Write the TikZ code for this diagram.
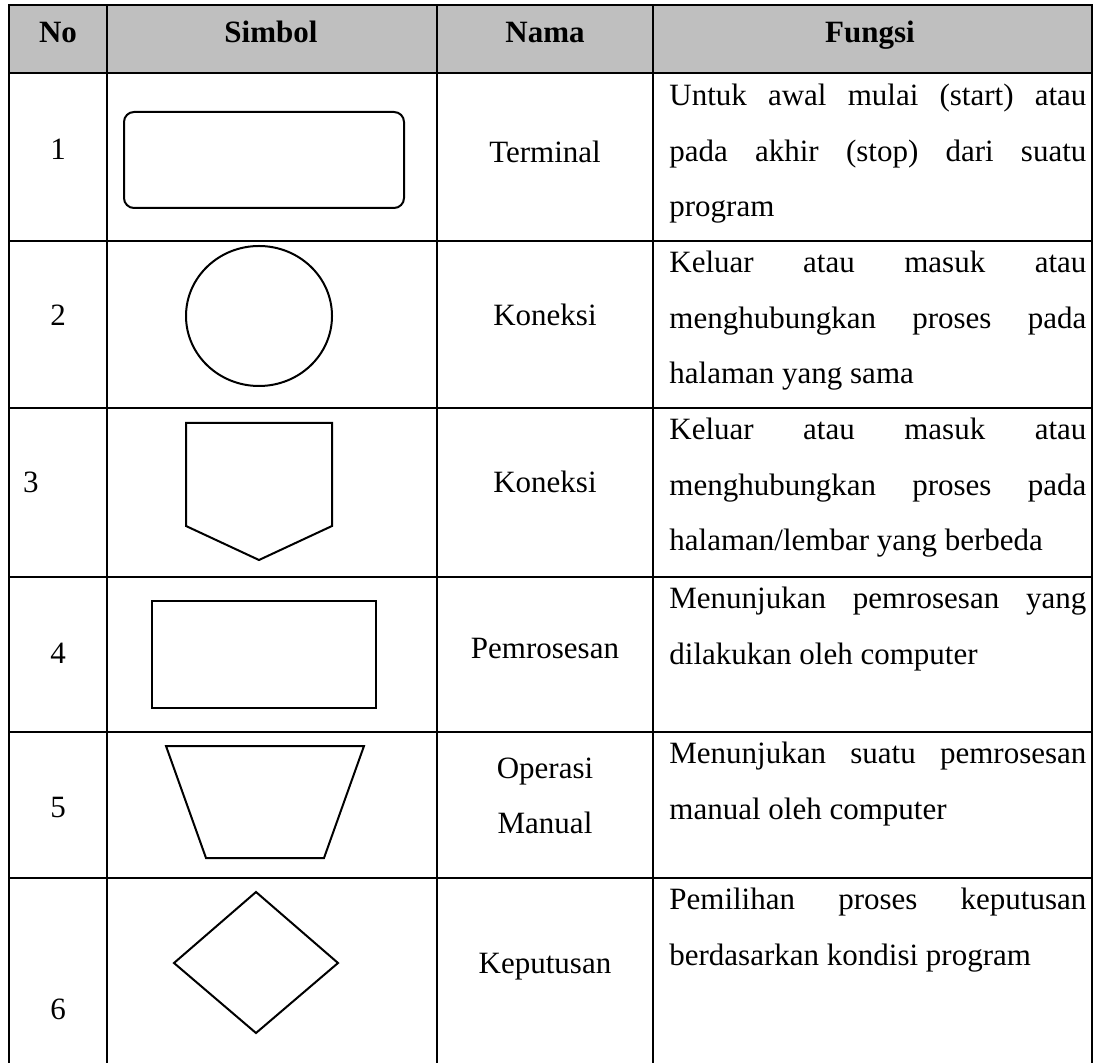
\documentclass[tikz,border=0pt]{standalone}
\usepackage{fontspec}
\setmainfont{Liberation Serif}
\usepackage{tikz}

\definecolor{headgray}{RGB}{191,191,191}
\newcommand{\celltext}{\fontsize{12.4}{22.2}\selectfont}
\tolerance=9999
\hyphenpenalty=10000

\tikzset{
    cell/.style={anchor=base, inner sep=0pt, font=\celltext},
    headcell/.style={cell, font=\celltext\bfseries},
    fungsi/.style={anchor=north west, inner sep=0pt, text width=166.8pt, align=justify, font=\celltext},
    symbol/.style={color=black, line width=0.8pt}
}

\begin{document}
\begin{tikzpicture}[x=0.4pt, y=-0.4pt, line width=1.1pt]
    \useasboundingbox (0, 0) rectangle (1097, 1063);

    % draw shaded header
    \fill[color=headgray] (9, 5) rectangle (1092, 73);

    % draw table frame and column lines
    \draw[color=black] (9, 1063) -- (9, 5) -- (1092, 5) -- (1092, 1063);
    \draw[color=black] (107, 5) -- (107, 1063);
    \draw[color=black] (437, 5) -- (437, 1063);
    \draw[color=black] (653, 5) -- (653, 1063);

    % draw row lines
    \draw[color=black] (9, 73) -- (1092, 73);
    \draw[color=black] (9, 241) -- (1092, 241);
    \draw[color=black] (9, 408) -- (1092, 408);
    \draw[color=black] (9, 577) -- (1092, 577);
    \draw[color=black] (9, 732) -- (1092, 732);
    \draw[color=black] (9, 878) -- (1092, 878);

    % header texts
    \node[headcell] (hNo) at (58, 43) {No};
    \node[headcell] (hSimbol) at (271, 43) {Simbol};
    \node[headcell] (hNama) at (545, 43) {Nama};
    \node[headcell] (hFungsi) at (870, 43) {Fungsi};

    % numbers
    \node[cell] (no1) at (58, 160) {1};
    \node[cell] (no2) at (58, 326) {2};
    \node[cell] (no3) at (31, 493) {3};
    \node[cell] (no4) at (58, 663) {4};
    \node[cell] (no5) at (58, 817) {5};
    \node[cell] (no6) at (58, 1019) {6};

    % draw symbols
    \draw[symbol, rounded corners=4pt] (124, 112) rectangle (404, 208);
    \draw[symbol] (259, 316) ellipse [x radius=73, y radius=70];
    \draw[symbol] (186, 423) -- (332, 423) -- (332, 526) -- (259, 560) -- (186, 526) -- cycle;
    \draw[symbol] (152, 601) rectangle (376, 708);
    \draw[symbol] (166, 746) -- (364, 746) -- (324, 858) -- (206, 858) -- cycle;
    \draw[symbol] (256, 892) -- (338, 963) -- (256, 1033) -- (174, 963) -- cycle;

    % names
    \node[cell] (nm1) at (545, 163) {Terminal};
    \node[cell] (nm2) at (545, 326) {Koneksi};
    \node[cell] (nm3) at (545, 493) {Koneksi};
    \node[cell] (nm4) at (545, 658) {Pemrosesan};
    \node[cell] (nm5) at (545, 778) {Operasi};
    \node[cell] (nm5b) at (545, 833) {Manual};
    \node[cell] (nm6) at (545, 973) {Keputusan};

    % functions
    \node[fungsi] (fg1) at (668, 83) {Untuk awal mulai (start) atau\linebreak pada akhir (stop) dari suatu\linebreak program};
    \node[fungsi] (fg2) at (668, 250) {Keluar atau masuk atau\linebreak menghubungkan proses pada\linebreak halaman yang sama};
    \node[fungsi] (fg3) at (668, 417) {Keluar atau masuk atau\linebreak menghubungkan proses pada\linebreak halaman/lembar yang berbeda};
    \node[fungsi] (fg4) at (668, 586) {Menunjukan pemrosesan yang\linebreak dilakukan oleh computer};
    \node[fungsi] (fg5) at (668, 741) {Menunjukan suatu pemrosesan\linebreak manual oleh computer};
    \node[fungsi] (fg6) at (668, 887) {Pemilihan proses keputusan\linebreak berdasarkan kondisi program};

\end{tikzpicture}
\end{document}
